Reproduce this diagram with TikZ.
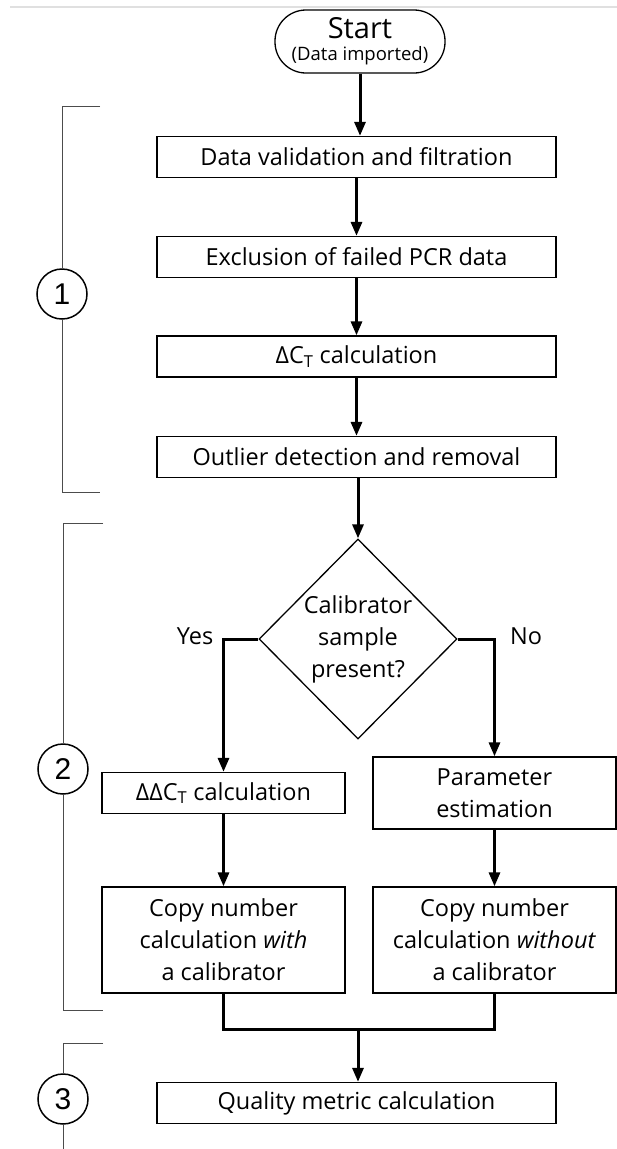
\documentclass[tikz,border=0pt]{standalone}
\usepackage{fontspec}
\setmainfont{Open Sans}
\newfontfamily\numfont{Liberation Sans}
\usetikzlibrary{arrows.meta,shapes.geometric}
\begin{document}
\begin{tikzpicture}[x=1pt,y=-1pt,
  every node/.style={inner sep=0pt},
  txt/.style={font=\fontsize{23.5}{32}\selectfont},
  boxbase/.style={draw, line width=1.3pt, align=center, txt},
  wide/.style={boxbase, minimum width=399pt, minimum height=41pt},
  col/.style={boxbase, minimum width=243pt},
  arr/.style={line width=3pt, -{Triangle[length=14pt,width=11pt]}},
  flow/.style={line width=3pt},
  brk/.style={line width=1pt, draw=black!70},
  num/.style={draw, circle, line width=1.5pt, minimum size=50pt, font=\numfont\fontsize{30}{30}\selectfont}
]
\useasboundingbox (0,0) rectangle (617,1149);
\draw[line width=1.2pt, black!12] (10,7) -- (617,7);

\node[draw, line width=1.3pt, rounded corners=31pt, minimum width=170pt, minimum height=63pt, align=center]
  (start) at (360,41.5) {{\fontsize{29}{29}\selectfont Start}\\[7pt]{\fontsize{18.5}{18.5}\selectfont (Data imported)}};

\node[wide] (b1) at (356.5,157) {Data validation and filtration};
\node[wide] (b2) at (356.5,257) {Exclusion of failed PCR data};
\node[wide] (b3) at (356.5,356.5) {ΔC\textsubscript{T} calculation};
\node[wide] (b4) at (356.5,457) {Outlier detection and removal};

\node[draw, diamond, aspect=1, line width=1.3pt, inner sep=-16pt, minimum width=198pt, minimum height=200pt, align=center, txt]
  (dia) at (358,639) {Calibrator\\sample\\present?};

\node[txt] (yes) at (195,636) {Yes};
\node[txt] (no) at (526,636) {No};

\node[col, minimum height=41pt] (ddc) at (223.5,793) {ΔΔC\textsubscript{T} calculation};
\node[col, minimum height=72pt] (par) at (494.5,793) {Parameter\\estimation};
\node[col, minimum height=106pt] (cwl) at (223.5,940) {Copy number\\calculation \textit{with}\\a calibrator};
\node[col, minimum height=106pt] (cwo) at (494.5,940) {Copy number\\calculation \textit{without}\\a calibrator};

\node[wide] (q) at (356.5,1103) {Quality metric calculation};

\coordinate (j) at (358,1029);

\draw[arr] (start.south) -- (start.south |- b1.north);
\draw[arr] (b1) -- (b2);
\draw[arr] (b2) -- (b3);
\draw[arr] (b3) -- (b4);
\draw[arr] (b4.south -| dia.north) -- (dia.north);
\draw[arr] (dia.west) -| (ddc.north);
\draw[arr] (dia.east) -| (par.north);
\draw[arr] (ddc) -- (cwl);
\draw[arr] (par) -- (cwo);
\draw[flow] (cwl.south) |- (j) -| (cwo.south);
\draw[arr] (j) -- (q.north -| j);

\node[num] (c1) at (62,294) {1};
\node[num] (c2) at (63,769) {2};
\node[num] (c3) at (63,1099) {3};

\draw[brk] (100,106) -- (62,106) -- (c1.north);
\draw[brk] (c1.south) -- (62,492) -- (100,492);
\draw[brk] (103,523) -- (63,523) -- (c2.north);
\draw[brk] (c2.south) -- (63,1010) -- (103,1010);
\draw[brk] (103,1043) -- (63,1043) -- (c3.north);
\draw[brk] (c3.south) -- (63,1149);
\end{tikzpicture}
\end{document}
